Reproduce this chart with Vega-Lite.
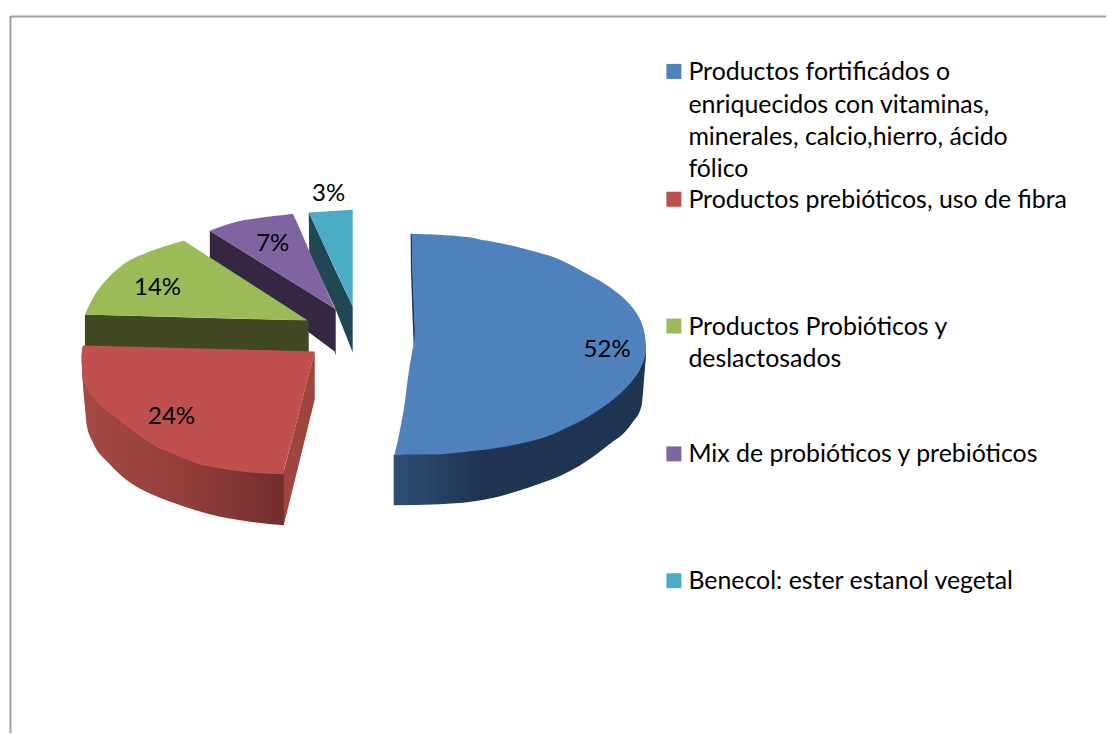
{
"$schema":"https://vega.github.io/schema/vega-lite/v6.json",
"width":1107,"height":734,"padding":0,
"autosize":{"type":"fit","contains":"padding"},
"background":"white",
"config":{"view":{"stroke":null}},
"resolve":{"scale":{"color":"independent"}},
"datasets":{
"frame":[{"x":10.5,"y":16.5,"x2":1107,"y2":16.5},{"x":10.5,"y":16,"x2":10.5,"y2":734}],
"flatFaces":[
{"part":"teal wall","x":309,"y":212.7,"y2":212.7},{"part":"teal wall","x":309.5,"y":213.5,"y2":253},{"part":"teal wall","x":336,"y":271,"y2":310},{"part":"teal wall","x":353,"y":307,"y2":353},
{"part":"teal top","x":309,"y":212.7,"y2":212.7},{"part":"teal top","x":353,"y":210,"y2":307},
{"part":"purple wall","x":210,"y":231,"y2":259},{"part":"purple wall","x":335,"y":309,"y2":352},{"part":"purple wall","x":336,"y":310,"y2":356}
],
"curvedFaces":[
{"x":210,"y":231,"y2":231},{"x":233,"y":223,"y2":245.4},{"x":260,"y":218,"y2":262.2},{"x":292.5,"y":214.1,"y2":282.5},{"x":293,"y":214,"y2":282.8},{"x":293.5,"y":215,"y2":283.1},{"x":314,"y":261.5,"y2":296},{"x":335,"y":309,"y2":309}
],
"greenWall":[
{"x":85,"y":315,"y2":350},{"x":308,"y":321,"y2":353},{"x":309,"y":321.5,"y2":353}
],
"greenTop":[
{"x":85,"y":315,"y2":315},{"x":93.3,"y":298,"y2":315.2},{"x":106.7,"y":280,"y2":315.6},{"x":123,"y":265,"y2":316},{"x":146.7,"y":253,"y2":316.6},{"x":170,"y":245,"y2":317.2},{"x":183,"y":241.3,"y2":317.5},{"x":184,"y":241,"y2":317.6},{"x":184.5,"y":241.3,"y2":317.6},{"x":200,"y":251.3,"y2":318},{"x":250,"y":283.5,"y2":319.4},{"x":308,"y":321,"y2":321}
],
"redSide":[
{"x":283,"y":475,"y2":526},{"x":284,"y":472,"y2":526},{"x":315,"y":352,"y2":400}
],
"redWall":[
{"x":81.7,"y":355,"y2":362},{"x":83,"y":355,"y2":385},{"x":85,"y":358,"y2":407},{"x":86.7,"y":360,"y2":425},{"x":93,"y":380,"y2":443},{"x":108,"y":400,"y2":463},{"x":128,"y":420,"y2":481.7},{"x":151.7,"y":435,"y2":495},{"x":175,"y":445,"y2":504},{"x":210,"y":450,"y2":515},{"x":247,"y":460,"y2":522},{"x":284,"y":470,"y2":526}
],
"redTop":[
{"x":81.7,"y":354,"y2":360},{"x":83,"y":346,"y2":380},{"x":87,"y":346.1,"y2":388},{"x":95,"y":346.3,"y2":400},{"x":111.7,"y":346.7,"y2":415},{"x":131.7,"y":347.2,"y2":430},{"x":155,"y":347.8,"y2":446.7},{"x":175,"y":348.4,"y2":455},{"x":200,"y":349,"y2":465},{"x":220,"y":349.5,"y2":469},{"x":240,"y":350,"y2":472},{"x":262,"y":350.6,"y2":474},{"x":283,"y":351.2,"y2":475},{"x":284,"y":351.2,"y2":471.2},{"x":300,"y":351.6,"y2":410},{"x":314,"y":352,"y2":356},{"x":315,"y":352,"y2":352}
],
"blueWall":[
{"x":394,"y":455,"y2":506},{"x":440,"y":452,"y2":505},{"x":487,"y":445,"y2":500},{"x":530,"y":438,"y2":488},{"x":570,"y":420,"y2":472},{"x":607,"y":400,"y2":447},{"x":633,"y":380,"y2":423},{"x":642,"y":365,"y2":407},{"x":645,"y":352,"y2":375},{"x":646.5,"y":348,"y2":358}
],
"blueEdge":[
{"y":234,"x":411,"x2":413},{"y":270,"x":411.3,"x2":413},{"y":320,"x":413,"x2":415},{"y":345,"x":414,"x2":416}
],
"blueTop":[
{"y":234.3,"x":412,"x2":420},{"y":235,"x":412.05,"x2":438},{"y":236.7,"x":412.1,"x2":462},{"y":240.7,"x":412.2,"x2":485},{"y":245,"x":412.3,"x2":508},{"y":251,"x":412.4,"x2":532},{"y":257,"x":412.5,"x2":553},{"y":263,"x":412.6,"x2":567},{"y":270,"x":412.8,"x2":580},{"y":281,"x":413,"x2":600},{"y":295,"x":413.6,"x2":620},{"y":308,"x":414.2,"x2":633},{"y":323,"x":414.8,"x2":642},{"y":333,"x":415,"x2":645},{"y":340,"x":414.7,"x2":646},{"y":348,"x":413.3,"x2":646.7},{"y":367,"x":410,"x2":642},{"y":388,"x":407,"x2":627},{"y":408,"x":404.5,"x2":603},{"y":427,"x":401,"x2":570},{"y":442,"x":398,"x2":530},{"y":450,"x":396,"x2":487},{"y":455,"x":395,"x2":440}
],
"slices":[
{"category":"Productos fortificádos o enriquecidos","share":0.52,"x":607.7,"y":357},
{"category":"Productos prebióticos, uso de fibra","share":0.24,"x":171.7,"y":425},
{"category":"Productos Probióticos y deslactosados","share":0.14,"x":157.7,"y":295},
{"category":"Mix de probióticos y prebióticos","share":0.07,"x":273,"y":251},
{"category":"Benecol: ester estanol vegetal","share":0.03,"x":329,"y":201}
],
"keys":[
{"key":"fortificados","x":674.5,"y":71.5},
{"key":"prebioticos","x":674.5,"y":199.5},
{"key":"probioticos","x":674.5,"y":326.5},
{"key":"mix","x":674.5,"y":454.5},
{"key":"benecol","x":674.5,"y":581.5}
],
"lines":[
{"line":"Productos fortificádos o","x":689,"y":80},
{"line":"enriquecidos con vitaminas,","x":689,"y":113},
{"line":"minerales, calcio,hierro, ácido","x":689,"y":145},
{"line":"fólico","x":689,"y":177},
{"line":"Productos prebióticos, uso de fibra","x":689,"y":208},
{"line":"Productos Probióticos y","x":689,"y":335},
{"line":"deslactosados","x":689,"y":368},
{"line":"Mix de probióticos y prebióticos","x":689,"y":463},
{"line":"Benecol: ester estanol vegetal","x":689,"y":590}
]
},
"encoding":{
"x":{"field":"x","type":"quantitative","axis":null,"scale":{"domain":[0,1107],"nice":false,"zero":false}},
"y":{"field":"y","type":"quantitative","axis":null,"scale":{"domain":[734,0],"nice":false,"zero":false}}
},
"layer":[
{"data":{"name":"frame"},"mark":{"type":"rule","color":"#a0a0a0","strokeWidth":2},
 "encoding":{"x2":{"field":"x2"},"y2":{"field":"y2"}}},
{"data":{"name":"flatFaces"},"mark":{"type":"area","interpolate":"linear"},
 "encoding":{"y2":{"field":"y2"},
  "color":{"field":"part","type":"nominal","legend":null,"sort":null,
   "scale":{"domain":["teal wall","teal top","purple wall"],"range":["#1f4754","#4bacc6","#352741"]}}}},
{"data":{"name":"curvedFaces"},"mark":{"type":"area","interpolate":"monotone","color":"#8064a2"},"encoding":{"y2":{"field":"y2"}}},
{"data":{"name":"greenWall"},"mark":{"type":"area","color":"#404923"},"encoding":{"y2":{"field":"y2"}}},
{"data":{"name":"greenTop"},"mark":{"type":"area","interpolate":"monotone","color":"#9bbb59"},"encoding":{"y2":{"field":"y2"}}},
{"data":{"name":"redSide"},"mark":{"type":"area","color":"#a0443f"},"encoding":{"y2":{"field":"y2"}}},
{"data":{"name":"redWall"},
 "mark":{"type":"area","interpolate":"monotone","color":{"gradient":"linear","x1":0,"y1":0,"x2":1,"y2":0,"stops":[{"offset":0,"color":"#a54845"},{"offset":0.5,"color":"#933e3a"},{"offset":1,"color":"#722e2d"}]}},
 "encoding":{"y2":{"field":"y2"}}},
{"data":{"name":"redTop"},"mark":{"type":"area","interpolate":"monotone","color":"#c0504d"},"encoding":{"y2":{"field":"y2"}}},
{"data":{"name":"blueWall"},
 "mark":{"type":"area","interpolate":"monotone","color":{"gradient":"linear","x1":0,"y1":0,"x2":1,"y2":0,"stops":[{"offset":0,"color":"#2f4f75"},{"offset":0.35,"color":"#1f3450"},{"offset":1,"color":"#1f3450"}]}},
 "encoding":{"y2":{"field":"y2"}}},
{"data":{"name":"blueEdge"},"mark":{"type":"area","orient":"horizontal","color":"#1f3450"},"encoding":{"x2":{"field":"x2"}}},
{"data":{"name":"blueTop"},"mark":{"type":"area","orient":"horizontal","interpolate":"monotone","color":"#4f81bd"},"encoding":{"x2":{"field":"x2"}}},
{"data":{"name":"slices"},"mark":{"type":"text","font":"Lato","fontSize":24,"align":"center","baseline":"alphabetic","color":"#000000"},
 "encoding":{"text":{"field":"share","type":"quantitative","format":".0%"}}},
{"data":{"name":"keys"},"mark":{"type":"square","size":225,"opacity":1},
 "encoding":{"color":{"field":"key","type":"nominal","legend":null,"sort":null,
   "scale":{"domain":["fortificados","prebioticos","probioticos","mix","benecol"],"range":["#4f81bd","#c0504d","#9bbb59","#8064a2","#4bacc6"]}}}},
{"data":{"name":"lines"},"mark":{"type":"text","font":"Lato","fontSize":24.9,"align":"left","baseline":"alphabetic","color":"#000000"},
 "encoding":{"text":{"field":"line","type":"nominal"}}}
]
}
